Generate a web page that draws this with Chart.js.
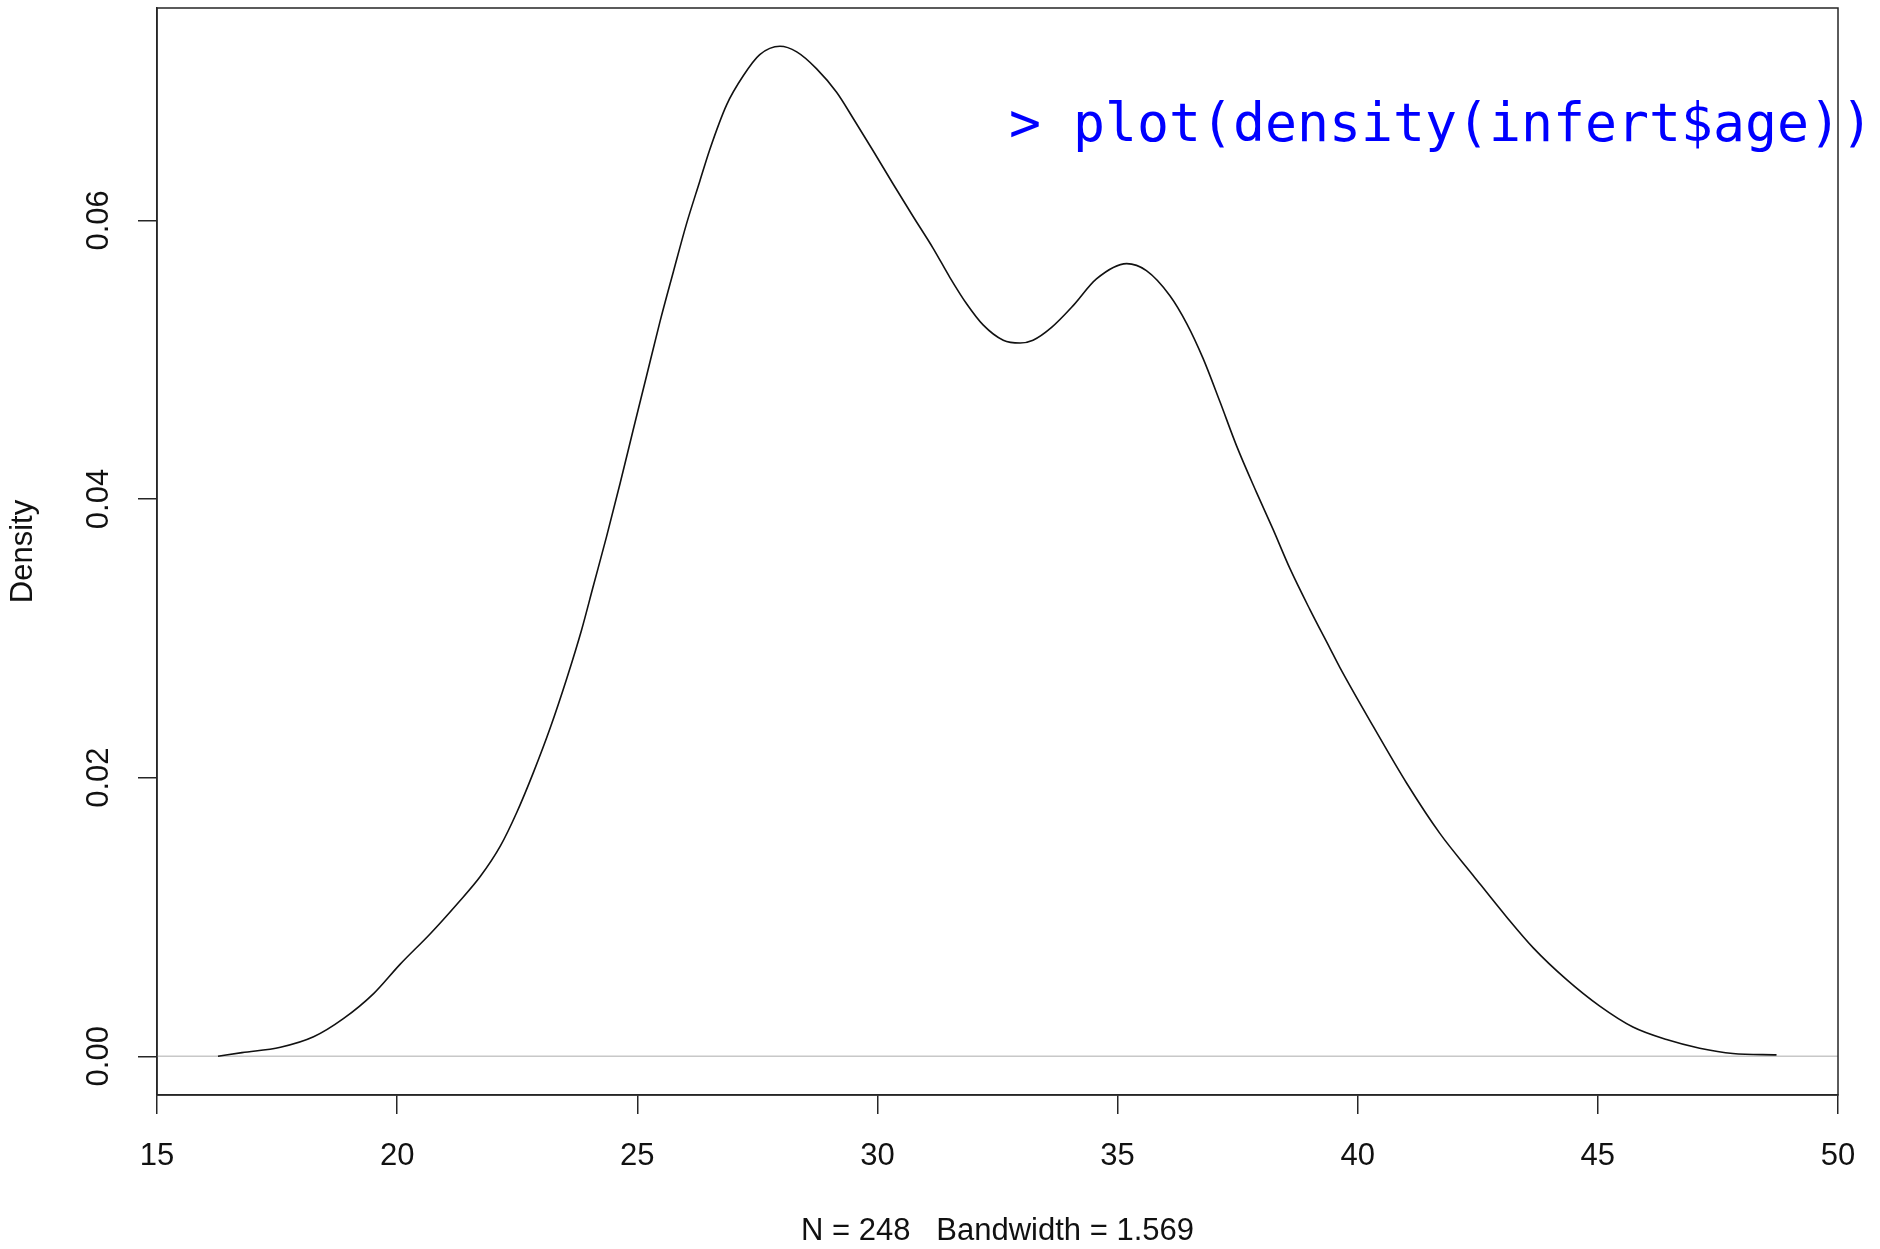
<!DOCTYPE html>
<html><head><meta charset="utf-8">
<script src="https://cdn.jsdelivr.net/npm/chart.js@4.4.1/dist/chart.umd.min.js"></script>
<style>html,body{margin:0;padding:0;background:#fff;}#wrap{width:1880px;height:1249px;}</style>
</head><body><div id="wrap"><canvas id="c" width="1880" height="1249"></canvas></div>
<script>
// ---- data ----
const ageX = [16.27, 16.77, 17.57, 18.26, 18.88, 19.51, 20.06, 20.69, 21.24, 21.73, 22.15, 22.49, 22.84, 23.19, 23.53, 23.84, 24.08, 24.36, 24.64, 24.91, 25.19, 25.47, 25.75, 26.02, 26.30, 26.51, 26.86, 27.21, 27.55, 27.97, 28.32, 28.73, 29.15, 29.50, 29.91, 30.33, 30.74, 31.16, 31.51, 31.86, 32.20, 32.62, 32.97, 33.24, 33.62, 34.08, 34.56, 35.19, 35.60, 36.09, 36.44, 36.78, 37.13, 37.48, 37.89, 38.24, 38.59, 39.00, 39.42, 39.63, 40.32, 41.02, 41.71, 42.40, 43.10, 43.65, 44.35, 45.04, 45.73, 46.43, 47.12, 47.81, 48.72];
const densityY = [0.0000, 0.00026, 0.00065, 0.0014, 0.0027, 0.0045, 0.0066, 0.0088, 0.0109, 0.0129, 0.0151, 0.0175, 0.0204, 0.0236, 0.0271, 0.0306, 0.0337, 0.0373, 0.0411, 0.0449, 0.0488, 0.0527, 0.0563, 0.0597, 0.0628, 0.0651, 0.0683, 0.0704, 0.0719, 0.0725, 0.0721, 0.0709, 0.0692, 0.0673, 0.0650, 0.0626, 0.0603, 0.0580, 0.0559, 0.0540, 0.0525, 0.0514, 0.0512, 0.0514, 0.0523, 0.0539, 0.0558, 0.0569, 0.0564, 0.0546, 0.0526, 0.0501, 0.0470, 0.0438, 0.0405, 0.0378, 0.0350, 0.0321, 0.0293, 0.0279, 0.0237, 0.0196, 0.0160, 0.0130, 0.0100, 0.0078, 0.0055, 0.0036, 0.0021, 0.0012, 0.00058, 0.0002, 0.0001];
const zeroLineX = [15, 50];
const zeroLineY = [0, 0];
const xTicks = [15, 20, 25, 30, 35, 40, 45, 50];
const yTicks = [0, 0.02, 0.04, 0.06];
const yTickLabels = ['0.00', '0.02', '0.04', '0.06'];
const xRange = [15, 50];
const yRange = [-0.00278, 0.07525];
const xTitle = 'N = 248   Bandwidth = 1.569';
const yTitle = 'Density';
const codeText = '> plot(density(infert$age))';

// ---- chart ----
const AXIS_FONT = {family: '"Liberation Sans", Arial, sans-serif', size: 31};
const TITLE_FONT = {family: '"Liberation Sans", Arial, sans-serif', size: 31, lineHeight: 1.1};
const AXIS_COL = '#262626';

const decorPlugin = {
  id: 'decor',
  afterDraw(chart) {
    const ctx = chart.ctx, a = chart.chartArea, ys = chart.scales.y;
    ctx.save();
    // full box around plot region
    ctx.strokeStyle = AXIS_COL; ctx.lineWidth = 1.5;
    ctx.strokeRect(a.left, a.top, a.right - a.left, a.bottom - a.top);
    // rotated y tick labels
    ctx.fillStyle = '#111';
    ctx.font = '31px "Liberation Sans", Arial, sans-serif';
    ctx.textAlign = 'center'; ctx.textBaseline = 'middle';
    yTicks.forEach((v, i) => {
      const py = ys.getPixelForValue(v);
      ctx.save(); ctx.translate(99, py); ctx.rotate(-Math.PI / 2);
      ctx.fillText(yTickLabels[i], 0, 0); ctx.restore();
    });
    // blue code annotation
    ctx.font = '54px "DejaVu Sans Mono", monospace';
    ctx.fillStyle = '#0000ff';
    ctx.textAlign = 'left'; ctx.textBaseline = 'alphabetic';
    const w = ctx.measureText(codeText).width;
    const sx = 864 / w;
    ctx.save(); ctx.translate(1009, 141); ctx.scale(sx, 1);
    ctx.fillText(codeText, 0, 0); ctx.restore();
    ctx.restore();
  }
};

new Chart(document.getElementById('c'), {
  type: 'line',
  data: {
    datasets: [
      {
        data: ageX.map((x, i) => ({x: x, y: densityY[i]})),
        borderColor: '#111', borderWidth: 1.6, pointRadius: 0, fill: false,
        cubicInterpolationMode: 'monotone', order: 0
      },
      {
        data: zeroLineX.map((x, i) => ({x: x, y: zeroLineY[i]})),
        borderColor: '#c8c8c8', borderWidth: 1.6, pointRadius: 0, fill: false, order: 1
      }
    ]
  },
  options: {
    responsive: false, animation: false, devicePixelRatio: 1,
    layout: {padding: {top: 8, right: 42, left: 0, bottom: 0}},
    plugins: {legend: {display: false}, tooltip: {enabled: false}},
    scales: {
      x: {
        type: 'linear', min: xRange[0], max: xRange[1],
        afterBuildTicks: s => { s.ticks = xTicks.map(v => ({value: v})); },
        ticks: {font: AXIS_FONT, color: '#111', padding: 24, maxRotation: 0, autoSkip: false, callback: v => String(v)},
        grid: {drawOnChartArea: false, drawTicks: true, tickLength: 19, color: AXIS_COL, lineWidth: 1.5},
        border: {display: true, color: AXIS_COL, width: 1.5},
        title: {display: true, text: xTitle, font: TITLE_FONT, color: '#111', padding: {top: 0, bottom: 0}},
        afterFit: s => { s.height = 154; }
      },
      y: {
        type: 'linear', min: yRange[0], max: yRange[1],
        afterBuildTicks: s => { s.ticks = yTicks.map(v => ({value: v})); },
        ticks: {display: false},
        grid: {drawOnChartArea: false, drawTicks: true, tickLength: 19, color: AXIS_COL, lineWidth: 1.5},
        border: {display: true, color: AXIS_COL, width: 1.5},
        title: {display: true, text: yTitle, font: AXIS_FONT, color: '#111', padding: {top: 5, bottom: 0}},
        afterFit: s => { s.width = 157; }
      }
    }
  },
  plugins: [decorPlugin]
});
</script></body></html>
